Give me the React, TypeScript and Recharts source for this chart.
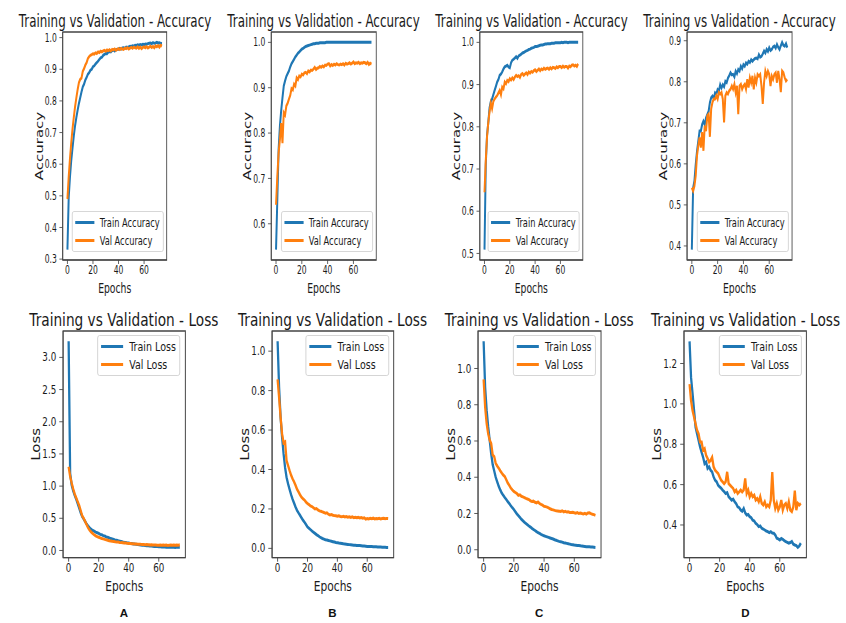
import React from 'react'
import { LineChart, Line, XAxis, YAxis, ReferenceArea, Legend } from 'recharts'

const FONT = '"DejaVu Sans", sans-serif'
const BLUE = '#1f77b4'
const ORANGE = '#ff7f0e'
const INK = '#1a1a1a'
const SPINE = '#444'

// the figure was squeezed sideways, each row by its own factor
const K_TOP = 0.66
const K_BOTTOM = 0.76

const YW = 60
const MT = 12
const MR = 12
const XH = 50

const epochs = Array.from({ length: 75 }, (_, i) => i)
const xTicks = [0, 20, 40, 60]
const xDomain: [number, number] = [-3.7, 77.7]

const accTicksA = [0.3, 0.4, 0.5, 0.6, 0.7, 0.8, 0.9, 1.0]
const accTicksB = [0.6, 0.7, 0.8, 0.9, 1.0]
const accTicksC = [0.5, 0.6, 0.7, 0.8, 0.9, 1.0]
const accTicksD = [0.4, 0.5, 0.6, 0.7, 0.8, 0.9]
const lossTicksA = [0.0, 0.5, 1.0, 1.5, 2.0, 2.5, 3.0]
const lossTicksB = [0.0, 0.2, 0.4, 0.6, 0.8, 1.0]
const lossTicksC = [0.0, 0.2, 0.4, 0.6, 0.8, 1.0]
const lossTicksD = [0.4, 0.6, 0.8, 1.0, 1.2]

const trainAccA = [
  0.330, 0.495, 0.560, 0.612, 0.652, 0.690, 0.722, 0.748, 0.771, 0.792,
  0.810, 0.828, 0.844, 0.853, 0.866, 0.874, 0.884, 0.889, 0.897, 0.900,
  0.908, 0.911, 0.917, 0.921, 0.926, 0.931, 0.936, 0.938, 0.944, 0.947,
  0.950, 0.949, 0.954, 0.956, 0.955, 0.959, 0.961, 0.958, 0.962, 0.963,
  0.963, 0.966, 0.964, 0.967, 0.968, 0.966, 0.970, 0.969, 0.971, 0.973,
  0.972, 0.974, 0.973, 0.976, 0.975, 0.977, 0.976, 0.978, 0.977, 0.979,
  0.978, 0.980, 0.979, 0.981, 0.982, 0.983, 0.981, 0.984, 0.982, 0.983,
  0.985, 0.983, 0.984, 0.982, 0.981,
]
const valAccA = [
  0.490, 0.560, 0.618, 0.668, 0.712, 0.748, 0.782, 0.810, 0.836, 0.858,
  0.868, 0.872, 0.893, 0.902, 0.913, 0.921, 0.934, 0.940, 0.944, 0.946,
  0.949, 0.948, 0.952, 0.950, 0.955, 0.953, 0.957, 0.955, 0.958, 0.960,
  0.957, 0.961, 0.959, 0.962, 0.958, 0.963, 0.961, 0.964, 0.960, 0.963,
  0.965, 0.962, 0.966, 0.964, 0.963, 0.967, 0.965, 0.968, 0.964, 0.967,
  0.969, 0.966, 0.970, 0.968, 0.967, 0.971, 0.966, 0.970, 0.965, 0.969,
  0.971, 0.968, 0.972, 0.967, 0.970, 0.973, 0.969, 0.972, 0.968, 0.974,
  0.971, 0.975, 0.970, 0.976, 0.973,
]
const trainAccB = [
  0.543, 0.653, 0.764, 0.815, 0.850, 0.878, 0.904, 0.915, 0.925, 0.931,
  0.937, 0.946, 0.953, 0.958, 0.963, 0.968, 0.972, 0.976, 0.979, 0.982,
  0.985, 0.987, 0.989, 0.991, 0.992, 0.993, 0.994, 0.995, 0.996, 0.997,
  0.997, 0.998, 0.998, 0.998, 0.999, 0.999, 0.999, 0.999, 0.999, 1.000,
  1.000, 1.000, 1.000, 1.000, 1.000, 1.000, 1.000, 1.000, 1.000, 1.000,
  1.000, 1.000, 1.000, 1.000, 1.000, 1.000, 1.000, 1.000, 1.000, 1.000,
  1.000, 1.000, 1.000, 1.000, 1.000, 1.000, 1.000, 1.000, 1.000, 1.000,
  1.000, 1.000, 1.000, 1.000, 1.000,
]
const valAccB = [
  0.642, 0.705, 0.756, 0.786, 0.822, 0.778, 0.845, 0.840, 0.860, 0.866,
  0.875, 0.883, 0.898, 0.895, 0.908, 0.904, 0.922, 0.918, 0.926, 0.924,
  0.930, 0.928, 0.933, 0.934, 0.931, 0.937, 0.935, 0.939, 0.938, 0.941,
  0.945, 0.940, 0.943, 0.944, 0.947, 0.945, 0.948, 0.946, 0.950, 0.949,
  0.952, 0.953, 0.948, 0.951, 0.949, 0.952, 0.950, 0.953, 0.951, 0.950,
  0.952, 0.951, 0.953, 0.950, 0.954, 0.952, 0.953, 0.955, 0.952, 0.954,
  0.957, 0.953, 0.955, 0.954, 0.956, 0.953, 0.955, 0.954, 0.956, 0.955,
  0.953, 0.956, 0.951, 0.954, 0.952,
]
const trainAccC = [
  0.509, 0.710, 0.780, 0.810, 0.845, 0.860, 0.866, 0.876, 0.886, 0.896,
  0.906, 0.912, 0.922, 0.925, 0.930, 0.937, 0.942, 0.944, 0.946, 0.942,
  0.940, 0.952, 0.958, 0.960, 0.963, 0.966, 0.962, 0.968, 0.970, 0.972,
  0.975, 0.976, 0.978, 0.980, 0.981, 0.983, 0.984, 0.986, 0.987, 0.988,
  0.990, 0.990, 0.991, 0.992, 0.993, 0.994, 0.994, 0.995, 0.996, 0.996,
  0.997, 0.997, 0.997, 0.998, 0.998, 0.998, 0.999, 0.999, 0.999, 0.999,
  0.999, 1.000, 0.999, 1.000, 1.000, 1.000, 0.999, 1.000, 1.000, 1.000,
  1.000, 1.000, 1.000, 1.000, 1.000,
]
const valAccC = [
  0.645, 0.720, 0.776, 0.810, 0.836, 0.856, 0.843, 0.860, 0.866, 0.870,
  0.874, 0.880, 0.886, 0.876, 0.894, 0.890, 0.906, 0.902, 0.910, 0.907,
  0.914, 0.911, 0.916, 0.912, 0.918, 0.922, 0.919, 0.921, 0.917, 0.924,
  0.926, 0.922, 0.925, 0.928, 0.924, 0.930, 0.927, 0.931, 0.929, 0.933,
  0.935, 0.931, 0.934, 0.937, 0.933, 0.937, 0.935, 0.939, 0.936, 0.938,
  0.939, 0.936, 0.940, 0.937, 0.941, 0.940, 0.938, 0.942, 0.940, 0.943,
  0.943, 0.940, 0.944, 0.941, 0.943, 0.943, 0.939, 0.944, 0.942, 0.946,
  0.947, 0.944, 0.946, 0.943, 0.949,
]
const trainAccD = [
  0.391, 0.541, 0.558, 0.598, 0.630, 0.655, 0.680, 0.680, 0.696, 0.704,
  0.696, 0.712, 0.720, 0.728, 0.749, 0.761, 0.765, 0.760, 0.773, 0.770,
  0.781, 0.778, 0.793, 0.785, 0.793, 0.788, 0.801, 0.798, 0.809, 0.815,
  0.822, 0.817, 0.818, 0.812, 0.826, 0.820, 0.830, 0.826, 0.838, 0.832,
  0.842, 0.838, 0.846, 0.843, 0.850, 0.847, 0.854, 0.850, 0.854, 0.857,
  0.858, 0.856, 0.866, 0.860, 0.862, 0.868, 0.875, 0.870, 0.879, 0.874,
  0.883, 0.876, 0.879, 0.885, 0.887, 0.882, 0.891, 0.884, 0.879, 0.888,
  0.896, 0.889, 0.887, 0.893, 0.883,
]
const valAccD = [
  0.542, 0.534, 0.546, 0.571, 0.620, 0.644, 0.664, 0.640, 0.677, 0.632,
  0.693, 0.680, 0.717, 0.721, 0.666, 0.734, 0.750, 0.758, 0.758, 0.766,
  0.758, 0.774, 0.770, 0.774, 0.758, 0.701, 0.766, 0.774, 0.770, 0.778,
  0.782, 0.790, 0.782, 0.794, 0.774, 0.790, 0.721, 0.790, 0.794, 0.782,
  0.790, 0.794, 0.782, 0.806, 0.786, 0.810, 0.798, 0.814, 0.782, 0.810,
  0.798, 0.818, 0.814, 0.818, 0.790, 0.746, 0.798, 0.826, 0.814, 0.826,
  0.818, 0.790, 0.814, 0.806, 0.818, 0.822, 0.798, 0.826, 0.806, 0.775,
  0.826, 0.822, 0.810, 0.802, 0.806,
]

const trainLossA = [
  3.250, 1.200, 1.020, 0.930, 0.860, 0.800, 0.730, 0.660, 0.590, 0.530,
  0.490, 0.450, 0.410, 0.380, 0.350, 0.330, 0.310, 0.300, 0.285, 0.275,
  0.265, 0.250, 0.245, 0.230, 0.225, 0.210, 0.205, 0.195, 0.185, 0.180,
  0.170, 0.160, 0.158, 0.150, 0.145, 0.140, 0.132, 0.128, 0.125, 0.118,
  0.115, 0.110, 0.108, 0.102, 0.100, 0.095, 0.092, 0.090, 0.085, 0.083,
  0.080, 0.078, 0.075, 0.073, 0.070, 0.068, 0.066, 0.063, 0.062, 0.060,
  0.058, 0.056, 0.055, 0.054, 0.052, 0.051, 0.053, 0.050, 0.049, 0.051,
  0.050, 0.048, 0.052, 0.049, 0.051,
]
const valLossA = [
  1.300, 1.150, 1.050, 0.960, 0.880, 0.820, 0.760, 0.700, 0.620, 0.540,
  0.500, 0.450, 0.400, 0.350, 0.315, 0.285, 0.265, 0.245, 0.228, 0.215,
  0.205, 0.195, 0.185, 0.180, 0.172, 0.165, 0.160, 0.152, 0.148, 0.143,
  0.140, 0.135, 0.132, 0.130, 0.125, 0.122, 0.120, 0.118, 0.115, 0.112,
  0.110, 0.108, 0.106, 0.105, 0.102, 0.100, 0.098, 0.097, 0.095, 0.094,
  0.092, 0.090, 0.091, 0.088, 0.087, 0.089, 0.085, 0.084, 0.086, 0.083,
  0.082, 0.085, 0.081, 0.084, 0.080, 0.083, 0.079, 0.082, 0.085, 0.080,
  0.084, 0.081, 0.086, 0.083, 0.088,
]
const trainLossB = [
  1.050, 0.815, 0.664, 0.563, 0.479, 0.410, 0.360, 0.328, 0.300, 0.273,
  0.250, 0.230, 0.210, 0.193, 0.180, 0.168, 0.155, 0.143, 0.133, 0.121,
  0.109, 0.102, 0.095, 0.088, 0.082, 0.076, 0.070, 0.065, 0.059, 0.054,
  0.050, 0.047, 0.044, 0.042, 0.040, 0.038, 0.036, 0.034, 0.032, 0.030,
  0.029, 0.027, 0.026, 0.025, 0.023, 0.022, 0.021, 0.020, 0.019, 0.018,
  0.017, 0.016, 0.016, 0.015, 0.014, 0.014, 0.013, 0.012, 0.012, 0.011,
  0.010, 0.010, 0.009, 0.009, 0.008, 0.008, 0.008, 0.007, 0.007, 0.007,
  0.006, 0.006, 0.006, 0.005, 0.005,
]
const valLossB = [
  0.857, 0.765, 0.664, 0.580, 0.535, 0.540, 0.445, 0.420, 0.395, 0.372,
  0.353, 0.338, 0.320, 0.300, 0.286, 0.272, 0.260, 0.252, 0.245, 0.235,
  0.227, 0.222, 0.215, 0.212, 0.206, 0.200, 0.202, 0.195, 0.190, 0.188,
  0.185, 0.182, 0.178, 0.180, 0.173, 0.170, 0.172, 0.168, 0.166, 0.165,
  0.163, 0.165, 0.162, 0.160, 0.163, 0.159, 0.161, 0.158, 0.160, 0.157,
  0.160, 0.156, 0.158, 0.155, 0.157, 0.154, 0.156, 0.153, 0.155, 0.148,
  0.151, 0.149, 0.152, 0.150, 0.153, 0.149, 0.151, 0.150, 0.152, 0.149,
  0.151, 0.153, 0.150, 0.152, 0.151,
]
const trainLossC = [
  1.150, 0.896, 0.770, 0.680, 0.605, 0.530, 0.470, 0.435, 0.400, 0.375,
  0.350, 0.330, 0.313, 0.300, 0.288, 0.277, 0.265, 0.255, 0.243, 0.232,
  0.222, 0.210, 0.198, 0.188, 0.178, 0.168, 0.160, 0.152, 0.145, 0.138,
  0.131, 0.125, 0.118, 0.112, 0.106, 0.100, 0.095, 0.090, 0.085, 0.081,
  0.077, 0.074, 0.071, 0.068, 0.065, 0.062, 0.059, 0.055, 0.052, 0.049,
  0.046, 0.044, 0.042, 0.039, 0.037, 0.035, 0.033, 0.031, 0.029, 0.028,
  0.026, 0.025, 0.024, 0.023, 0.022, 0.020, 0.019, 0.018, 0.017, 0.017,
  0.016, 0.015, 0.015, 0.014, 0.013,
]
const valLossC = [
  0.940, 0.787, 0.696, 0.640, 0.605, 0.586, 0.523, 0.514, 0.477, 0.462,
  0.450, 0.436, 0.423, 0.412, 0.404, 0.386, 0.368, 0.355, 0.340, 0.330,
  0.322, 0.316, 0.310, 0.300, 0.303, 0.295, 0.292, 0.288, 0.283, 0.280,
  0.277, 0.270, 0.266, 0.268, 0.262, 0.259, 0.264, 0.255, 0.250, 0.246,
  0.240, 0.238, 0.235, 0.231, 0.226, 0.222, 0.220, 0.217, 0.215, 0.214,
  0.213, 0.211, 0.215, 0.209, 0.212, 0.208, 0.210, 0.206, 0.205, 0.207,
  0.204, 0.202, 0.205, 0.200, 0.203, 0.200, 0.198, 0.201, 0.197, 0.203,
  0.204, 0.199, 0.196, 0.194, 0.190,
]
const trainLossD = [
  1.310, 1.130, 1.050, 0.967, 0.885, 0.852, 0.819, 0.786, 0.761, 0.736,
  0.704, 0.712, 0.680, 0.688, 0.671, 0.663, 0.638, 0.622, 0.614, 0.597,
  0.589, 0.582, 0.573, 0.565, 0.556, 0.560, 0.540, 0.532, 0.523, 0.528,
  0.515, 0.505, 0.490, 0.486, 0.474, 0.468, 0.482, 0.460, 0.449, 0.452,
  0.441, 0.436, 0.424, 0.420, 0.408, 0.402, 0.392, 0.395, 0.384, 0.380,
  0.375, 0.370, 0.367, 0.362, 0.367, 0.360, 0.359, 0.350, 0.334, 0.331,
  0.326, 0.333, 0.329, 0.322, 0.318, 0.314, 0.310, 0.313, 0.318, 0.305,
  0.301, 0.298, 0.289, 0.296, 0.310,
]
const valLossD = [
  1.098, 1.016, 0.967, 0.934, 0.901, 0.869, 0.852, 0.811, 0.811, 0.770,
  0.778, 0.745, 0.729, 0.712, 0.720, 0.735, 0.688, 0.671, 0.663, 0.655,
  0.638, 0.622, 0.614, 0.605, 0.614, 0.663, 0.605, 0.597, 0.589, 0.581,
  0.564, 0.573, 0.556, 0.564, 0.573, 0.564, 0.573, 0.630, 0.556, 0.573,
  0.540, 0.556, 0.540, 0.548, 0.523, 0.531, 0.515, 0.540, 0.507, 0.499,
  0.515, 0.490, 0.499, 0.490, 0.523, 0.662, 0.523, 0.482, 0.507, 0.474,
  0.490, 0.523, 0.474, 0.499, 0.507, 0.482, 0.515, 0.474, 0.466, 0.490,
  0.570, 0.474, 0.507, 0.499, 0.507,
]

const panelLetters = ['A', 'B', 'C', 'D']

type Box = { l: number; r: number; t: number; b: number }

interface PanelProps {
  k: number
  box: Box
  title: string
  yLabel: string
  trainName: string
  valName: string
  train: number[]
  val: number[]
  yTicks: number[]
  legendAt: 'lower right' | 'upper right'
}

// matplotlib-style autoscale: 5% margin around the data
function padDomain(a: number[], b: number[]): [number, number] {
  const all = a.concat(b)
  const lo = Math.min(...all)
  const hi = Math.max(...all)
  const pad = (hi - lo) * 0.05
  return [lo - pad, hi + pad]
}

function LegendBox({ payload }: { payload?: Array<{ value: string; color: string }> }) {
  if (!payload) return null
  return (
    <div
      style={{
        background: 'rgba(255,255,255,0.85)',
        border: '1px solid #cfcfcf',
        borderRadius: 3,
        padding: '1px 5px 1px 4px',
        fontFamily: FONT,
        fontSize: 12.5,
        color: INK,
        whiteSpace: 'nowrap',
      }}
    >
      {payload.map((p) => (
        <div key={p.value} style={{ display: 'flex', alignItems: 'center', height: 18.5 }}>
          <span style={{ display: 'inline-block', width: 29, height: 3, background: p.color, marginRight: 8 }} />
          <span>{p.value}</span>
        </div>
      ))}
    </div>
  )
}

function Panel(p: PanelProps) {
  const w = (p.box.r - p.box.l) / p.k
  const h = p.box.b - p.box.t
  const chartW = YW + w + MR
  const chartH = MT + h + XH
  const rows = epochs.map((e, i) => ({ epoch: e, train: p.train[i], val: p.val[i] }))
  const yDomain = padDomain(p.train, p.val)
  const legendPos =
    p.legendAt === 'lower right'
      ? { right: MR + 5, bottom: XH + 8, left: 'auto', top: 'auto' }
      : { right: MR + 6, top: MT + 4, left: 'auto', bottom: 'auto' }

  const yLabel = () => {
    const cx = YW - 35.5
    const cy = MT + h / 2
    return (
      <text x={cx} y={cy} transform={`rotate(-90 ${cx} ${cy})`} textAnchor="middle" dominantBaseline="central"
        fontSize={15} fontFamily={FONT} fill={INK}>
        {p.yLabel}
      </text>
    )
  }
  const xLabel = () => (
    <text x={YW + w / 2} y={MT + h + 33.5} textAnchor="middle" fontSize={14} fontFamily={FONT} fill={INK}>
      Epochs
    </text>
  )
  const tickStyle = { fill: INK, fontSize: 11.5, fontFamily: FONT }

  return (
    <div style={{ position: 'absolute', left: p.box.l / p.k - YW, top: p.box.t - MT, width: chartW, height: chartH }}>
      <LineChart width={chartW} height={chartH} data={rows} margin={{ top: MT, right: MR, bottom: 0, left: 0 }}>
        <XAxis
          dataKey="epoch"
          type="number"
          domain={xDomain}
          ticks={xTicks}
          interval={0}
          height={XH}
          tick={tickStyle}
          tickSize={4}
          tickMargin={2}
          tickLine={{ stroke: SPINE }}
          axisLine={{ stroke: SPINE }}
          label={xLabel}
        />
        <YAxis
          type="number"
          domain={yDomain}
          ticks={p.yTicks}
          interval={0}
          width={YW}
          tick={tickStyle}
          tickSize={5}
          tickMargin={4}
          tickLine={{ stroke: SPINE }}
          axisLine={{ stroke: SPINE }}
          tickFormatter={(v: number) => v.toFixed(1)}
          label={yLabel}
        />
        <ReferenceArea
          x1={xDomain[0]}
          x2={xDomain[1]}
          y1={yDomain[0]}
          y2={yDomain[1]}
          fill="none"
          stroke={SPINE}
          strokeWidth={1.3}
          ifOverflow="visible"
        />
        <Line dataKey="train" name={p.trainName} stroke={BLUE} strokeWidth={3} dot={false} isAnimationActive={false} />
        <Line dataKey="val" name={p.valName} stroke={ORANGE} strokeWidth={3} dot={false} isAnimationActive={false} />
        <Legend
          layout="horizontal"
          verticalAlign="middle"
          align="center"
          content={<LegendBox />}
          wrapperStyle={{ ...legendPos, width: 'auto', height: 'auto' } as React.CSSProperties}
        />
      </LineChart>
      <div
        style={{
          position: 'absolute',
          left: YW + w / 2,
          top: MT - 5 - 15.2,
          transform: 'translateX(-50%)',
          whiteSpace: 'nowrap',
          fontFamily: FONT,
          fontSize: 18,
          lineHeight: '18px',
          color: INK,
        }}
      >
        {p.title}
      </div>
    </div>
  )
}

const accPanels: PanelProps[] = [
  { k: K_TOP, box: { l: 63, r: 167, t: 32, b: 260 }, title: 'Training vs Validation - Accuracy', yLabel: 'Accuracy', trainName: 'Train Accuracy', valName: 'Val Accuracy', train: trainAccA, val: valAccA, yTicks: accTicksA, legendAt: 'lower right' },
  { k: K_TOP, box: { l: 271, r: 376, t: 32, b: 260 }, title: 'Training vs Validation - Accuracy', yLabel: 'Accuracy', trainName: 'Train Accuracy', valName: 'Val Accuracy', train: trainAccB, val: valAccB, yTicks: accTicksB, legendAt: 'lower right' },
  { k: K_TOP, box: { l: 480, r: 583, t: 32, b: 260 }, title: 'Training vs Validation - Accuracy', yLabel: 'Accuracy', trainName: 'Train Accuracy', valName: 'Val Accuracy', train: trainAccC, val: valAccC, yTicks: accTicksC, legendAt: 'lower right' },
  { k: K_TOP, box: { l: 687, r: 792, t: 32, b: 260 }, title: 'Training vs Validation - Accuracy', yLabel: 'Accuracy', trainName: 'Train Accuracy', valName: 'Val Accuracy', train: trainAccD, val: valAccD, yTicks: accTicksD, legendAt: 'lower right' },
]

const lossPanels: PanelProps[] = [
  { k: K_BOTTOM, box: { l: 62.7, r: 185, t: 331, b: 557.7 }, title: 'Training vs Validation - Loss', yLabel: 'Loss', trainName: 'Train Loss', valName: 'Val Loss', train: trainLossA, val: valLossA, yTicks: lossTicksA, legendAt: 'upper right' },
  { k: K_BOTTOM, box: { l: 271.7, r: 393.3, t: 331, b: 557.7 }, title: 'Training vs Validation - Loss', yLabel: 'Loss', trainName: 'Train Loss', valName: 'Val Loss', train: trainLossB, val: valLossB, yTicks: lossTicksB, legendAt: 'upper right' },
  { k: K_BOTTOM, box: { l: 477.7, r: 600.7, t: 331, b: 557.7 }, title: 'Training vs Validation - Loss', yLabel: 'Loss', trainName: 'Train Loss', valName: 'Val Loss', train: trainLossC, val: valLossC, yTicks: lossTicksC, legendAt: 'upper right' },
  { k: K_BOTTOM, box: { l: 684.3, r: 806.7, t: 331, b: 557.7 }, title: 'Training vs Validation - Loss', yLabel: 'Loss', trainName: 'Train Loss', valName: 'Val Loss', train: trainLossD, val: valLossD, yTicks: lossTicksD, legendAt: 'upper right' },
]

function Row({ k, panels }: { k: number; panels: PanelProps[] }) {
  return (
    <div
      style={{
        position: 'absolute',
        left: 0,
        top: 0,
        width: 846 / k,
        height: 623,
        transform: `scaleX(${k})`,
        transformOrigin: '0 0',
      }}
    >
      {panels.map((p, i) => (
        <Panel key={i} {...p} />
      ))}
    </div>
  )
}

export default function App() {
  return (
    <div style={{ position: 'absolute', left: 0, top: 0, width: 846, height: 623, background: '#fff', overflow: 'hidden' }}>
      <Row k={K_TOP} panels={accPanels} />
      <Row k={K_BOTTOM} panels={lossPanels} />
      {panelLetters.map((letter, i) => {
        const box = lossPanels[i].box
        return (
          <div
            key={letter}
            style={{
              position: 'absolute',
              left: (box.l + box.r) / 2,
              top: 606,
              transform: 'translateX(-50%)',
              fontFamily: '"Liberation Sans", Arial, sans-serif',
              fontWeight: 700,
              fontSize: 11.5,
              lineHeight: '14px',
              color: '#111',
            }}
          >
            {letter}
          </div>
        )
      })}
    </div>
  )
}
